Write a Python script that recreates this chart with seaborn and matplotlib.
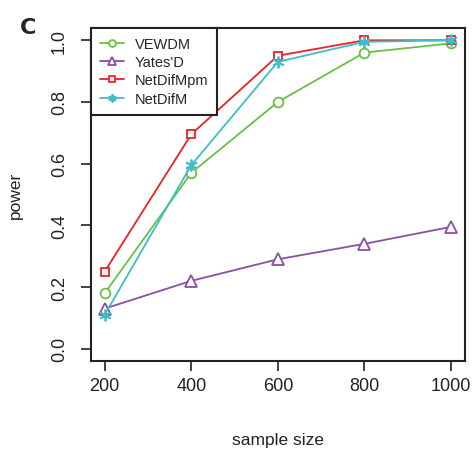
import numpy as np
import pandas as pd
import matplotlib
matplotlib.use("Agg")
import matplotlib.pyplot as plt
import seaborn as sns

sample_size = [200, 400, 600, 800, 1000]
vewdm = [0.18, 0.57, 0.80, 0.96, 0.99]
yates_d = [0.13, 0.22, 0.29, 0.34, 0.395]
netdif_mpm = [0.25, 0.695, 0.95, 1.0, 1.0]
netdif_m = [0.11, 0.595, 0.93, 0.995, 1.0]

series = {
    "VEWDM": vewdm,
    "Yates'D": yates_d,
    "NetDifMpm": netdif_mpm,
    "NetDifM": netdif_m,
}
colors = {"VEWDM": "#6cbf45", "Yates'D": "#8a4fa6", "NetDifMpm": "#ec2127", "NetDifM": "#3dbec8"}
markers = {"VEWDM": "o", "Yates'D": "^", "NetDifMpm": "s", "NetDifM": (6, 2, 0)}
msizes = {"VEWDM": 7, "Yates'D": 8.5, "NetDifMpm": 6, "NetDifM": 8.5}

rows = []
for name, vals in series.items():
    for x, y in zip(sample_size, vals):
        rows.append({"method": name, "sample size": x, "power": y})
df = pd.DataFrame(rows)

sns.set_style("ticks")
plt.rcParams["font.family"] = ["Liberation Sans", "DejaVu Sans"]

fig = plt.figure(figsize=(4.73, 4.52), dpi=100)
ax = fig.add_axes([0.192, 0.199, 0.791, 0.737])

for name in series:
    sub = df[df["method"] == name]
    sns.lineplot(data=sub, x="sample size", y="power", ax=ax, color=colors[name],
                 marker=markers[name], markersize=msizes[name], markerfacecolor="white",
                 markeredgecolor=colors[name], markeredgewidth=1.3, linewidth=1.3,
                 label=name)

ax.set_xlim(168, 1032)
ax.set_ylim(-0.04, 1.04)
ax.set_xticks(sample_size)
ax.set_yticks([0.0, 0.2, 0.4, 0.6, 0.8, 1.0])
ax.set_yticklabels(["0.0", "0.2", "0.4", "0.6", "0.8", "1.0"], rotation=90, va="center")
ax.tick_params(axis="both", direction="out", length=7.5, width=1.2, labelsize=13,
               color="#222222", labelcolor="#222222")
ax.tick_params(axis="x", pad=4)
ax.tick_params(axis="y", pad=9)
for sp in ax.spines.values():
    sp.set_visible(True)
    sp.set_color("#222222")
    sp.set_linewidth(1.5)

ax.set_xlabel("sample size", fontsize=12.5, color="#222222", labelpad=27)
ax.set_ylabel("power", fontsize=12.5, color="#222222", labelpad=20)

leg = ax.legend(loc="upper left", borderaxespad=0, fancybox=False, frameon=True,
                edgecolor="#222222", fontsize=10.5, handlelength=1.7, handletextpad=0.7,
                labelspacing=0.3, borderpad=0.6, markerscale=0.7)
leg.get_frame().set_linewidth(1.5)
leg.get_frame().set_alpha(1)

fig.text(0.042, 0.96, "C", fontsize=16, fontweight="bold", va="top", ha="left",
         family=["DejaVu Sans"])

fig.savefig("out.png", dpi=100)
